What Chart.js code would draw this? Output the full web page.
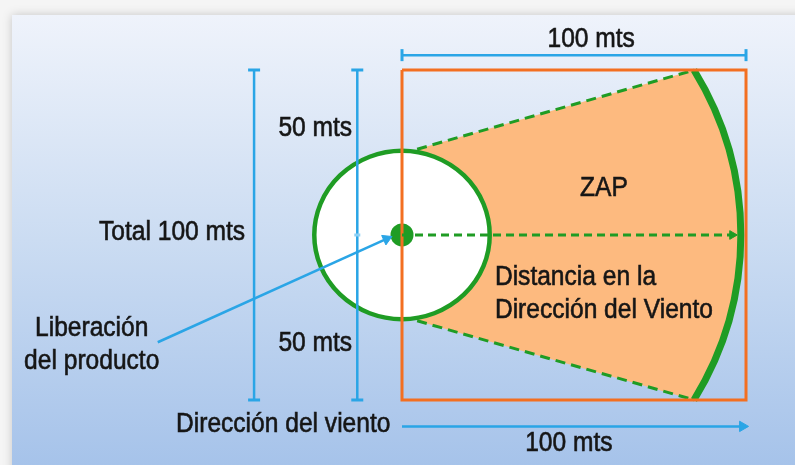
<!DOCTYPE html>
<html>
<head>
<meta charset="utf-8">
<script src="https://cdn.jsdelivr.net/npm/chart.js@4.4.1/dist/chart.umd.min.js"></script>
<style>
  html, body { margin: 0; padding: 0; background: #f4f4f4; }
  #wrap { width: 795px; height: 465px; }
</style>
</head>
<body>
<div id="wrap"><canvas id="zapChart" width="795" height="465"></canvas></div>
<script>
// everything in metres, release point at (0,0), wind blows towards +x

// orange square, 100 x 100 mts
const boxX = [0, 100, 100, 0, 0];
const boxY = [50, 50, -50, -50, 50];

// release point and the two radii (white zone / ZAP arc)
const releaseX = [0];
const releaseY = [0];
const innerRadius = [25.5];
const zapRadius = [98.5];

// dashed borders of the ZAP
const upperEdgeX = [4.4, 85];
const upperEdgeY = [26, 50];
const lowerEdgeX = [4.4, 85];
const lowerEdgeY = [-26, -50];

// dashed wind axis
const windAxisX = [0, 96];
const windAxisY = [0, 0];

// blue measure lines
const totalDimX = [-43, -43];
const totalDimY = [50, -50];
const halfDimX = [-13, -13, -13];
const halfDimY = [50, 0, -50];
const topDimX = [0, 100];
const topDimY = [54.5, 54.5];
const windArrowX = [0, 99];
const windArrowY = [-58, -58];
const pointerX = [-71, -4.5];
const pointerY = [-32.5, -1.2];

// texts
const noteText = ['100 mts', 'Total 100 mts', '50 mts', '50 mts', 'ZAP',
  'Distancia en la', 'Dirección del Viento', 'Liberación', 'del producto',
  'Dirección del viento', '100 mts'];

function pts(xs, ys) {
  return xs.map((v, i) => ({ x: v, y: ys[i] }));
}

// label anchors (metres) and alignment
const notes = [
  { t: noteText[0], x: 55, y: 59.3, a: 'center' },
  { t: noteText[1], x: -45.6, y: 0.6, a: 'right' },
  { t: noteText[2], x: -14.5, y: 32.4, a: 'right' },
  { t: noteText[3], x: -14.5, y: -33, a: 'right' },
  { t: noteText[4], x: 58.7, y: 14.2, a: 'center' },
  { t: noteText[5], x: 27, y: -13, a: 'left' },
  { t: noteText[6], x: 27, y: -23, a: 'left' },
  { t: noteText[7], x: -90.2, y: -28.2, a: 'center' },
  { t: noteText[8], x: -90.2, y: -38.2, a: 'center' },
  { t: noteText[9], x: -65.7, y: -57.3, a: 'left' },
  { t: noteText[10], x: 48.5, y: -63.3, a: 'center' }
];

const blue = '#2aa5e6';
const green = '#1f9c24';

// background panel with gradient
const panelPlugin = {
  id: 'panel',
  beforeDraw(chart) {
    const ctx = chart.ctx;
    ctx.save();
    ctx.fillStyle = '#f5f5f5';
    ctx.fillRect(0, 0, chart.width, chart.height);
    let g = ctx.createLinearGradient(0, 15, 0, chart.height);
    g.addColorStop(0, '#eff3fb');
    g.addColorStop(0.5, '#cbdcf2');
    g.addColorStop(1, '#a6c3ea');
    ctx.shadowColor = 'rgba(0,0,0,0.2)';
    ctx.shadowBlur = 9;
    ctx.fillStyle = g;
    ctx.fillRect(12, 15, chart.width, chart.height);
    ctx.restore();
  }
};

// orange sector, thick green arc and the white circle
const zapPlugin = {
  id: 'zap',
  beforeDatasetsDraw(chart) {
    const { ctx, scales: { x, y } } = chart;
    const cx = x.getPixelForValue(releaseX[0]);
    const cy = y.getPixelForValue(releaseY[0]);
    const rx = x.getPixelForValue(releaseX[0] + zapRadius[0]) - cx;
    const ry = cy - y.getPixelForValue(releaseY[0] + zapRadius[0]);
    const half = Math.asin(upperEdgeY[1] / zapRadius[0]);

    ctx.save();
    ctx.beginPath();
    ctx.moveTo(x.getPixelForValue(upperEdgeX[0]), y.getPixelForValue(upperEdgeY[0]));
    ctx.lineTo(x.getPixelForValue(upperEdgeX[1]), y.getPixelForValue(upperEdgeY[1]));
    ctx.ellipse(cx, cy, rx, ry, 0, -half, half);
    ctx.lineTo(x.getPixelForValue(lowerEdgeX[0]), y.getPixelForValue(lowerEdgeY[0]));
    ctx.lineTo(cx, cy);
    ctx.closePath();
    ctx.fillStyle = '#fdba7f';
    ctx.fill();

    ctx.beginPath();
    ctx.ellipse(cx, cy, rx, ry, 0, -half, half);
    ctx.strokeStyle = green;
    ctx.lineWidth = 7;
    ctx.stroke();

    const crx = x.getPixelForValue(releaseX[0] + innerRadius[0]) - cx;
    const cry = cy - y.getPixelForValue(releaseY[0] + innerRadius[0]);
    ctx.beginPath();
    ctx.ellipse(cx, cy, crx, cry, 0, 0, Math.PI * 2);
    ctx.fillStyle = '#ffffff';
    ctx.fill();
    ctx.lineWidth = 4.5;
    ctx.strokeStyle = green;
    ctx.stroke();
    ctx.restore();
  }
};

// all the texts
const notesPlugin = {
  id: 'notes',
  afterDatasetsDraw(chart) {
    const { ctx, scales: { x, y } } = chart;
    ctx.save();
    ctx.fillStyle = '#161616';
    ctx.strokeStyle = '#161616';
    ctx.lineWidth = 0.6;
    ctx.font = '27px "Liberation Sans", Arial, sans-serif';
    ctx.textBaseline = 'middle';
    notes.forEach(n => {
      ctx.save();
      ctx.translate(x.getPixelForValue(n.x), y.getPixelForValue(n.y));
      ctx.scale(0.91, 1);
      ctx.textAlign = n.a;
      ctx.fillText(n.t, 0, 0);
      ctx.strokeText(n.t, 0, 0);
      ctx.restore();
    });
    ctx.restore();
  }
};

new Chart(document.getElementById('zapChart'), {
  type: 'scatter',
  data: {
    datasets: [
      {
        // pointer to the release point
        data: pts(pointerX, pointerY),
        showLine: true,
        borderColor: blue,
        borderWidth: 2.5,
        pointStyle: 'triangle',
        pointRadius: [0, 6],
        pointRotation: 66,
        pointBackgroundColor: blue,
        pointBorderColor: blue,
        pointBorderWidth: 1,
        order: 1
      },
      {
        data: pts(totalDimX, totalDimY),
        showLine: true,
        borderColor: blue,
        borderWidth: 2.5,
        pointStyle: 'line',
        pointRadius: 6,
        pointBorderColor: blue,
        pointBorderWidth: 3,
        order: 2
      },
      {
        data: pts(halfDimX, halfDimY),
        showLine: true,
        borderColor: blue,
        borderWidth: 2.5,
        pointStyle: 'line',
        pointRadius: [6, 3, 6],
        pointBorderColor: [blue, '#8cd0f5', blue],
        pointBorderWidth: 3,
        order: 2
      },
      {
        data: pts(topDimX, topDimY),
        showLine: true,
        borderColor: blue,
        borderWidth: 2.5,
        pointStyle: 'line',
        pointRadius: 6,
        pointRotation: 90,
        pointBorderColor: blue,
        pointBorderWidth: 3,
        order: 2
      },
      {
        data: pts(windArrowX, windArrowY),
        showLine: true,
        borderColor: blue,
        borderWidth: 2.5,
        pointStyle: 'triangle',
        pointRadius: [0, 6],
        pointRotation: 90,
        pointBackgroundColor: blue,
        pointBorderColor: blue,
        pointBorderWidth: 1,
        order: 2
      },
      {
        // wind axis
        data: pts(windAxisX, windAxisY),
        showLine: true,
        borderColor: green,
        borderWidth: 3,
        borderDash: [8, 5],
        pointStyle: 'triangle',
        pointRadius: [0, 5],
        pointRotation: 90,
        pointBackgroundColor: green,
        pointBorderColor: green,
        pointBorderWidth: 1,
        order: 3
      },
      {
        data: pts(boxX, boxY),
        showLine: true,
        borderColor: '#f36f21',
        borderWidth: 3,
        pointRadius: 0,
        order: 4
      },
      {
        // release point
        data: pts(releaseX, releaseY),
        pointRadius: 11.5,
        pointBackgroundColor: green,
        pointBorderColor: green,
        pointBorderWidth: 0,
        order: 5
      },
      {
        data: pts(upperEdgeX, upperEdgeY),
        showLine: true,
        borderColor: green,
        borderWidth: 3,
        borderDash: [10, 6],
        pointRadius: 0,
        order: 6
      },
      {
        data: pts(lowerEdgeX, lowerEdgeY),
        showLine: true,
        borderColor: green,
        borderWidth: 3,
        borderDash: [10, 6],
        pointRadius: 0,
        order: 6
      }
    ]
  },
  options: {
    responsive: false,
    animation: false,
    events: [],
    layout: { padding: 0, autoPadding: false },
    plugins: {
      legend: { display: false },
      tooltip: { enabled: false }
    },
    scales: {
      x: { type: 'linear', min: -116.86, max: 114.24, display: false },
      y: { type: 'linear', min: -69.7, max: 71.21, display: false }
    }
  },
  plugins: [panelPlugin, zapPlugin, notesPlugin]
});
</script>
</body>
</html>
